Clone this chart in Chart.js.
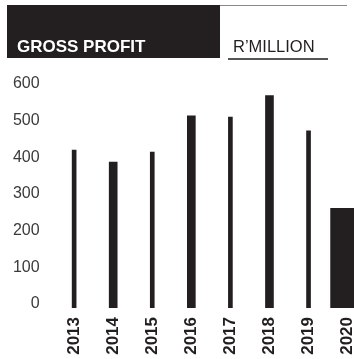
<!DOCTYPE html>
<html>
<head>
<meta charset="utf-8">
<script src="https://cdn.jsdelivr.net/npm/chart.js@4/dist/chart.umd.min.js"></script>
<style>
  html, body { margin: 0; padding: 0; background: #fff; overflow: hidden; width: 354px; height: 359px; }
  #grossChart { position: absolute; left: 0; top: 0; }
  .hdr { position: absolute; font-family: "Liberation Sans", Arial, sans-serif; }
  #blackBox { left: 7px; top: 5px; width: 213px; height: 53px; background: #231f20; }
  #topLine { left: 220px; top: 5px; width: 127px; height: 1px; background: #8a8a8a; }
  #underLine { left: 228px; top: 58px; width: 100px; height: 1.5px; background: #555; }
  #title { left: 17px; top: 38px; color: #fff; font-weight: bold; font-size: 17px; line-height: 17px; white-space: nowrap; }
  #unit { left: 233px; top: 38px; color: #231f20; font-size: 16.5px; line-height: 17px; white-space: nowrap; }
</style>
</head>
<body>
<canvas id="grossChart" width="377" height="359"></canvas>
<div class="hdr" id="blackBox"></div>
<div class="hdr" id="topLine"></div>
<div class="hdr" id="underLine"></div>
<div class="hdr" id="title">GROSS PROFIT</div>
<div class="hdr" id="unit">R’MILLION</div>
<script>
// Gross profit, R'million
const years = ['2013', '2014', '2015', '2016', '2017', '2018', '2019', '2020'];
const grossProfit = [431, 398, 425, 524, 521, 579, 483, 272];
const yTicks = [0, 100, 200, 300, 400, 500, 600];

// bar widths alternate thin / thick, last year is drawn as a wide block
const barKind = ['thin', 'thick', 'thin', 'thick', 'thin', 'thick', 'thin', 'wide'];
const kindWidth = { thin: 4, thick: 8, wide: 34 };

const datasets = Object.keys(kindWidth).map(kind => ({
    label: kind,
    data: grossProfit.map((v, i) => barKind[i] === kind ? v : null),
    backgroundColor: '#231f20',
    borderWidth: 0,
    barThickness: kindWidth[kind],
    grouped: false
}));

const ctx = document.getElementById('grossChart').getContext('2d');
new Chart(ctx, {
    type: 'bar',
    data: { labels: years, datasets: datasets },
    options: {
        responsive: false,
        animation: false,
        layout: { padding: { top: 88, left: 0, right: 0, bottom: 0 } },
        plugins: { legend: { display: false }, tooltip: { enabled: false } },
        scales: {
            x: {
                grid: { display: false, drawTicks: false },
                border: { display: false },
                ticks: {
                    color: '#231f20',
                    font: { family: 'Liberation Sans', size: 17, weight: 'bold' },
                    minRotation: 90,
                    maxRotation: 90,
                    padding: 9,
                    autoSkip: false
                },
                afterFit: scale => { scale.height = 51; }
            },
            y: {
                min: yTicks[0],
                max: yTicks[yTicks.length - 1],
                grid: { display: false, drawTicks: false },
                border: { display: false },
                afterBuildTicks: scale => { scale.ticks = yTicks.map(v => ({ value: v })); },
                ticks: {
                    color: '#3a3a3a',
                    font: { family: 'Liberation Sans', size: 16 },
                    padding: 15,
                    labelOffset: -4
                },
                afterFit: scale => { scale.width = 54.6; }
            }
        }
    }
});
</script>
</body>
</html>
